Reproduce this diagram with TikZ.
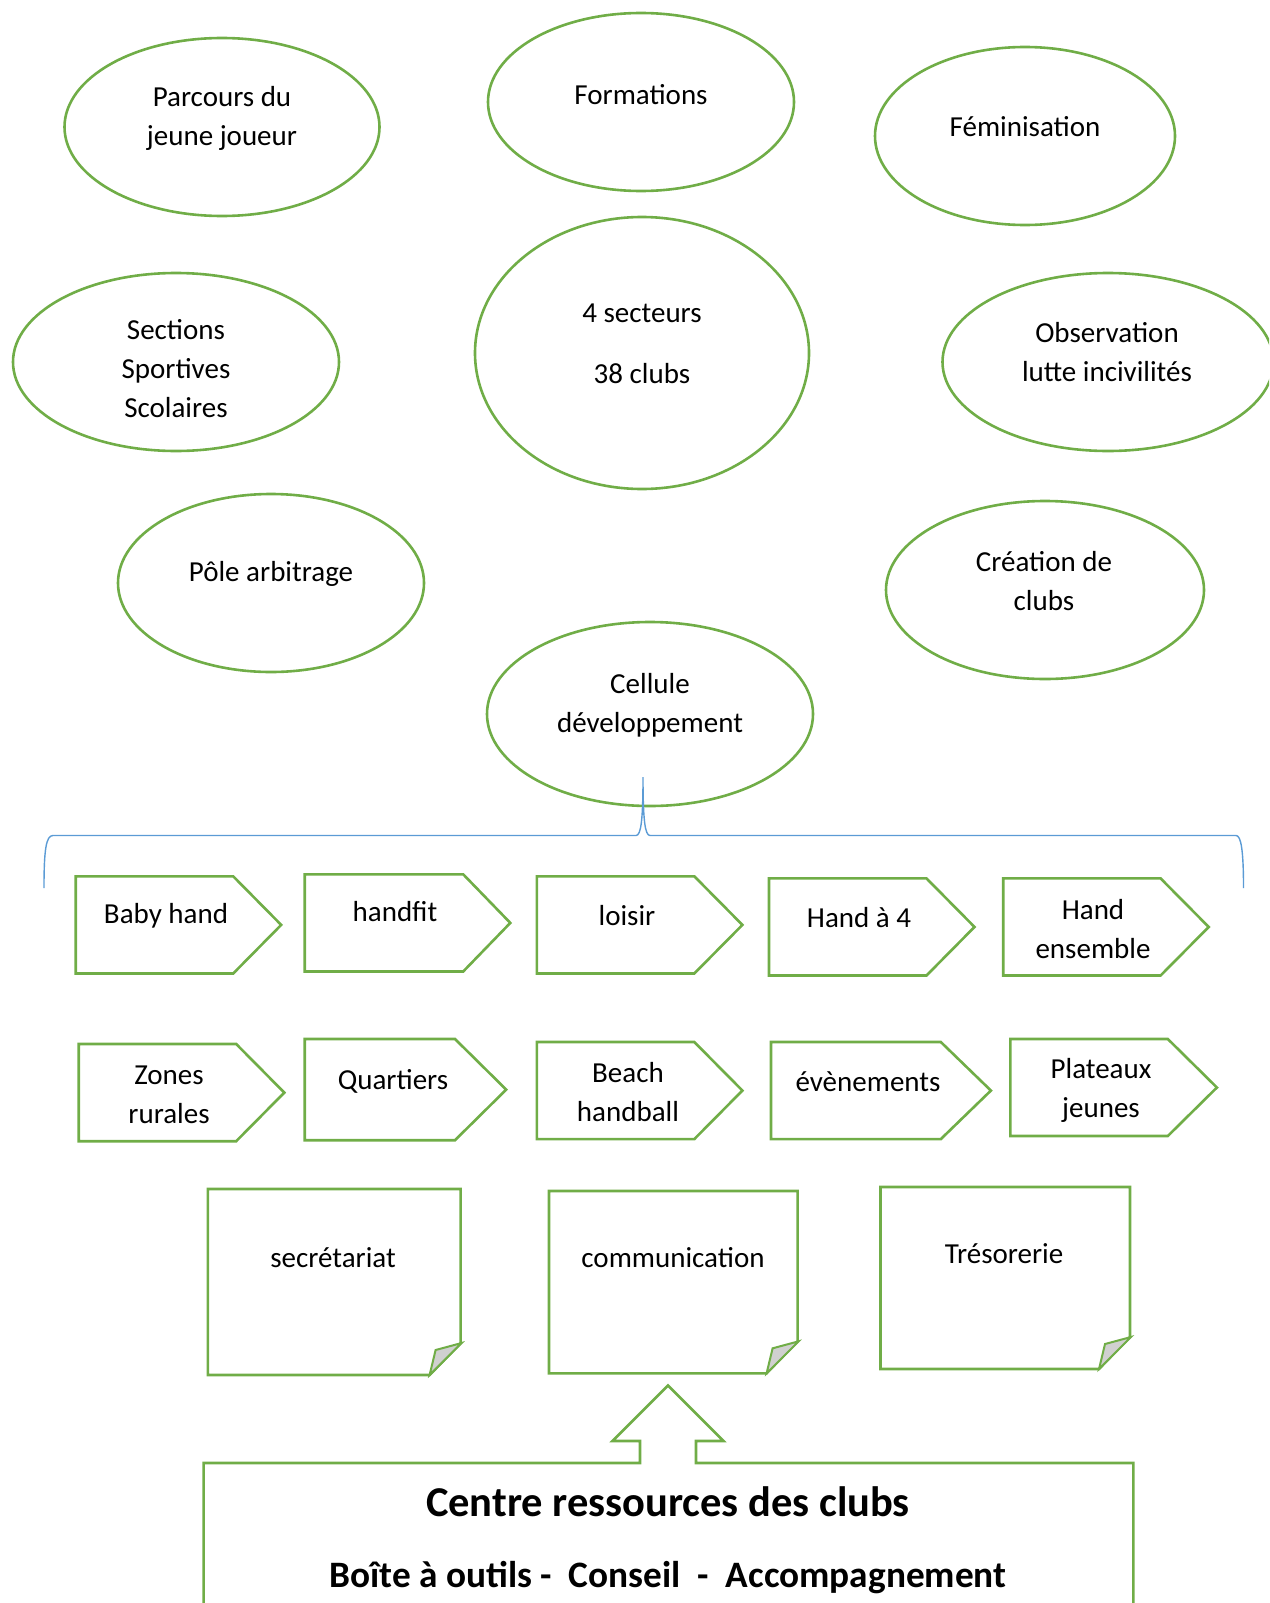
\documentclass[tikz,border=0pt]{standalone}
\usepackage{fontspec}
\setmainfont{Carlito}
\usetikzlibrary{shapes.geometric}
\definecolor{grn}{HTML}{70AD47}
\definecolor{blu}{HTML}{5B9BD5}
\definecolor{foldgray}{HTML}{D0D0D0}
\newcommand\pentbox[6]{% name L R T B notch
  \draw[shp] (#2,#4) -- (#6,#4) -- (#3,{(#4+#5)/2}) coordinate (#1-tip) -- (#6,#5) -- (#2,#5) -- cycle;}
\newcommand\notebox[5]{% name L T R B
  \draw[shp] (#2,#3) coordinate (#1-nw) -- (#4,#3) -- (#4,#5-32) -- (#4-31,#5) -- (#2,#5) -- cycle;
  \draw[shp, line width=2pt, fill=foldgray] (#4-31,#5) -- (#4-25,#5-25) -- (#4+1,#5-32) -- cycle;}
\begin{document}
\begin{tikzpicture}[x=1pt,y=-1pt,
  ell/.style={ellipse, draw=grn, line width=2.6pt, inner sep=0pt},
  txt/.style={align=center, font=\fontsize{29}{39}\selectfont, inner sep=0pt, yshift=-2pt},
  shp/.style={draw=grn, line width=2.6pt, line join=miter},
  big/.style={inner sep=0pt, font=\bfseries\fontsize{42.5}{50}\selectfont},
  mid/.style={inner sep=0pt, font=\bfseries\fontsize{37.3}{44}\selectfont},
]
\useasboundingbox (0,0) rectangle (1269,1603);
\clip (0,0) rectangle (1269,1603);

% ellipses
\node[ell, minimum width=315, minimum height=178] (parcours) at (222,127) {};
\node[ell, minimum width=306, minimum height=178] (formations) at (641,102) {};
\node[ell, minimum width=300, minimum height=178] (feminisation) at (1025,136) {};
\node[ell, minimum width=326, minimum height=178] (sections) at (176,362) {};
\node[ell, minimum width=334, minimum height=272] (secteurs) at (642,353) {};
\node[ell, minimum width=331, minimum height=178] (observation) at (1108,362) {};
\node[ell, minimum width=306, minimum height=178] (pole) at (271,583) {};
\node[ell, minimum width=318, minimum height=178] (creation) at (1045,590) {};
\node[ell, minimum width=326, minimum height=184] (cellule) at (650,714) {};

\node[txt] (t-parcours) at (222,116) {Parcours du\\jeune joueur};
\node[txt] (t-formations) at (641,93) {Formations};
\node[txt] (t-feminisation) at (1025,125) {Féminisation};
\node[txt] (t-sections) at (176,367) {Sections\\Sportives\\Scolaires};
\node[txt] (t-secteurs) at (642,342) {4 secteurs\\[22pt]38 clubs};
\node[txt] (t-observation) at (1107,350) {Observation\\lutte incivilités};
\node[txt] (t-pole) at (271,572) {Pôle arbitrage};
\node[txt] (t-creation) at (1044,579) {Création de\\clubs};
\node[txt] (t-cellule) at (650,703) {Cellule\\développement};

% brace
\coordinate (bl) at (44,888);
\coordinate (br) at (1243.5,888);
\draw[blu, line width=1.4pt]
  (bl) .. controls (44,850) and (46,835.5) .. (53,835.5) -- (636,835.5)
  .. controls (641,835.5) and (643,820) .. (643,777)
  .. controls (643,820) and (645,835.5) .. (650,835.5) -- (1236,835.5)
  .. controls (1241,835.5) and (1243.5,850) .. (br);

% pentagons row 1
\pentbox{baby}{75.7}{281.2}{876.3}{973.5}{233.2}
\pentbox{handfit}{304.7}{510.3}{874.3}{971.5}{463.2}
\pentbox{loisir}{536.8}{742.4}{876.3}{973.5}{694.3}
\pentbox{hand4}{769}{974.5}{878.4}{975.5}{926.5}
\pentbox{ensemble}{1003.2}{1208.7}{878.4}{975.5}{1160.6}
\node[txt] (t-baby) at (166,914) {Baby hand};
\node[txt] (t-handfit) at (395,910) {handfit};
\node[txt] (t-loisir) at (627,914) {loisir};
\node[txt] (t-hand4) at (859,916) {Hand à 4};
\node[txt] (t-ensemble) at (1093,927) {Hand\\ensemble};

% pentagons row 2
\pentbox{zones}{78.7}{284.3}{1044}{1141.2}{236.2}
\pentbox{quartiers}{304.7}{506.2}{1039}{1140.2}{455}
\pentbox{beach}{536.8}{742.4}{1042}{1139.1}{694.3}
\pentbox{evenements}{771}{990.9}{1042}{1139.1}{940.8}
\pentbox{plateaux}{1010.3}{1216.9}{1039}{1136}{1167.8}
\node[txt] (t-zones) at (169,1093) {Zones\\rurales};
\node[txt] (t-quartiers) at (393,1079) {Quartiers};
\node[txt] (t-beach) at (628,1090) {Beach\\handball};
\node[txt] (t-evenements) at (868,1080) {évènements};
\node[txt] (t-plateaux) at (1101,1088) {Plateaux\\jeunes};

% notes
\notebox{secr}{207.8}{1189}{460.6}{1375}
\notebox{comm}{549}{1191}{797.6}{1373.3}
\notebox{treso}{880.5}{1187}{1130}{1369}
\node[txt] (t-secr) at (333,1256) {secrétariat};
\node[txt] (t-comm) at (673,1256) {communication};
\node[txt] (t-treso) at (1004,1252) {Trésorerie};

% block arrow and resource box
\draw[shp] (203.6,1615) -- (203.6,1463) -- (640,1463) -- (640,1441) -- (612.5,1441)
  -- (668,1385.5) coordinate (arrowtip) -- (723.5,1441) -- (696,1441) -- (696,1463)
  -- (1133.4,1463) -- (1133.4,1615);
\node[big] (t-centre) at (668,1502) {Centre ressources des clubs};
\node[mid] (t-boite) at (668,1578) {Boîte à outils -\ \ Conseil\ \ -\ \ Accompagnement};
\end{tikzpicture}
\end{document}
